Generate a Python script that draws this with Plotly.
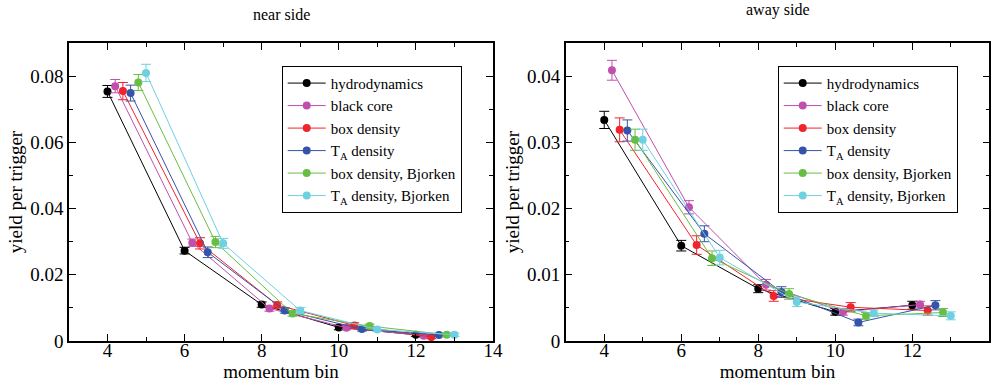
import plotly.graph_objects as go

names = ["hydrodynamics", "black core", "box density", "T<sub>A</sub> density",
         "box density, Bjorken", "T<sub>A</sub> density, Bjorken"]
colors = ["#000000", "#C04FAE", "#F0242C", "#3553A8", "#68BE42", "#6FD0E2"]

# x positions (momentum bin, series offset visible in picture)
x_black = [4, 6, 8, 10, 12]
x_core = [4.2, 6.2, 8.2, 10.2, 12.2]
x_box = [4.4, 6.4, 8.4, 10.4, 12.4]
x_ta = [4.6, 6.6, 8.6, 10.6, 12.6]
x_boxbj = [4.8, 6.8, 8.8, 10.8, 12.8]
x_tabj = [5.0, 7.0, 9.0, 11.0, 13.0]
xs = [x_black, x_core, x_box, x_ta, x_boxbj, x_tabj]

# near side yields
near_black = [0.0754, 0.0273, 0.0110, 0.0041, 0.0019]
near_core = [0.0770, 0.0297, 0.0098, 0.0040, 0.0016]
near_box = [0.0755, 0.0295, 0.0109, 0.0047, 0.0012]
near_ta = [0.0749, 0.0268, 0.0092, 0.0036, 0.0018]
near_boxbj = [0.0781, 0.0299, 0.0083, 0.0045, 0.0019]
near_tabj = [0.0810, 0.0295, 0.0092, 0.0035, 0.0019]
near = [near_black, near_core, near_box, near_ta, near_boxbj, near_tabj]

near_err_black = [0.0018, 0.0010, 0.0008, 0.0007, 0.0005]
near_err_core = [0.0020, 0.0011, 0.0008, 0.0006, 0.0005]
near_err_box = [0.0026, 0.0017, 0.0009, 0.0008, 0.0005]
near_err_ta = [0.0024, 0.0016, 0.0008, 0.0006, 0.0005]
near_err_boxbj = [0.0024, 0.0017, 0.0008, 0.0006, 0.0005]
near_err_tabj = [0.0026, 0.0015, 0.0009, 0.0006, 0.0005]
near_err = [near_err_black, near_err_core, near_err_box, near_err_ta, near_err_boxbj, near_err_tabj]

# away side yields
away_black = [0.0334, 0.0144, 0.0079, 0.0044, 0.0054]
away_core = [0.0409, 0.0202, 0.0085, 0.0044, 0.0055]
away_box = [0.0319, 0.0145, 0.0068, 0.0051, 0.0046]
away_ta = [0.0318, 0.0162, 0.0074, 0.0028, 0.0054]
away_boxbj = [0.0304, 0.0125, 0.0071, 0.0038, 0.0043]
away_tabj = [0.0304, 0.0126, 0.0059, 0.0042, 0.0038]
away = [away_black, away_core, away_box, away_ta, away_boxbj, away_tabj]

away_err_black = [0.0013, 0.0008, 0.0006, 0.0005, 0.0006]
away_err_core = [0.0015, 0.0010, 0.0008, 0.0005, 0.0005]
away_err_box = [0.0018, 0.0014, 0.0008, 0.0007, 0.0007]
away_err_ta = [0.0016, 0.0012, 0.0008, 0.0005, 0.0007]
away_err_boxbj = [0.0016, 0.0011, 0.0008, 0.0005, 0.0006]
away_err_tabj = [0.0016, 0.0011, 0.0007, 0.0005, 0.0006]
away_err = [away_err_black, away_err_core, away_err_box, away_err_ta, away_err_boxbj, away_err_tabj]

FONT = "Liberation Serif"
fig = go.Figure()

for panel, (ys, es, xa, ya, lg) in enumerate([(near, near_err, "x", "y", "legend"),
                                                (away, away_err, "x2", "y2", "legend2")]):
    for i in range(6):
        fig.add_trace(go.Scatter(
            x=xs[i], y=ys[i], mode="lines+markers", name=names[i],
            xaxis=xa, yaxis=ya, legend=lg,
            line=dict(color=colors[i], width=1),
            marker=dict(color=colors[i], size=8),
            error_y=dict(type="data", array=es[i], color=colors[i], width=5, thickness=1),
        ))

axis_common = dict(showline=True, linecolor="black", linewidth=1.5, mirror="allticks",
                   ticks="inside", ticklen=7, tickwidth=1, tickcolor="black",
                   showgrid=False, zeroline=False, automargin=False,
                   tickfont=dict(family=FONT, size=19, color="black"),
                   title_font=dict(family=FONT, size=19, color="black"))

xaxis_common = dict(axis_common, range=[3, 14], tickmode="array", tickvals=[4, 6, 8, 10, 12, 14],
                    ticklabelstandoff=-9,
                    minor=dict(ticks="inside", ticklen=4, tickcolor="black", dtick=1, tick0=3),
                    title=dict(text="momentum bin", standoff=0))

legend_common = dict(y=0.829, xanchor="left", yanchor="top", bgcolor="white",
                     bordercolor="black", borderwidth=1, font=dict(family=FONT, size=15),
                     tracegroupgap=0, itemwidth=38)

fig.update_layout(
    width=999, height=385, margin=dict(l=0, r=0, t=0, b=0),
    paper_bgcolor="white", plot_bgcolor="white",
    font=dict(family=FONT, size=18, color="black"),
    showlegend=True,
    xaxis=dict(xaxis_common, domain=[0.069, 0.4935], anchor="y"),
    yaxis=dict(axis_common, domain=[0.1143, 0.888], anchor="x", range=[0, 0.09],
               tickvals=[0, 0.02, 0.04, 0.06, 0.08], ticktext=["0", "0.02", "0.04", "0.06", "0.08"],
               minor=dict(ticks="inside", ticklen=4, tickcolor="black", dtick=0.01, tick0=0),
               title=dict(text="yield per trigger", standoff=2)),
    xaxis2=dict(xaxis_common, domain=[0.5663, 0.9903], anchor="y2"),
    yaxis2=dict(axis_common, domain=[0.1143, 0.888], anchor="x2", range=[0, 0.045],
                tickvals=[0, 0.01, 0.02, 0.03, 0.04], ticktext=["0", "0.01", "0.02", "0.03", "0.04"],
                minor=dict(ticks="inside", ticklen=4, tickcolor="black", dtick=0.005, tick0=0),
                title=dict(text="yield per trigger", standoff=2)),
    legend=dict(legend_common, x=0.282),
    legend2=dict(legend_common, x=0.7785),
    annotations=[
        dict(text="near side", x=0.282, y=(385 - 14) / 385, xref="paper", yref="paper",
             xanchor="center", yanchor="middle", showarrow=False, font=dict(family=FONT, size=16)),
        dict(text="away side", x=0.7785, y=(385 - 10) / 385, xref="paper", yref="paper",
             xanchor="center", yanchor="middle", showarrow=False, font=dict(family=FONT, size=16)),
    ],
)

fig.write_html("out.html", config={"displayModeBar": False},
               post_script="document.body.style.margin='0';document.body.style.padding='0';")
